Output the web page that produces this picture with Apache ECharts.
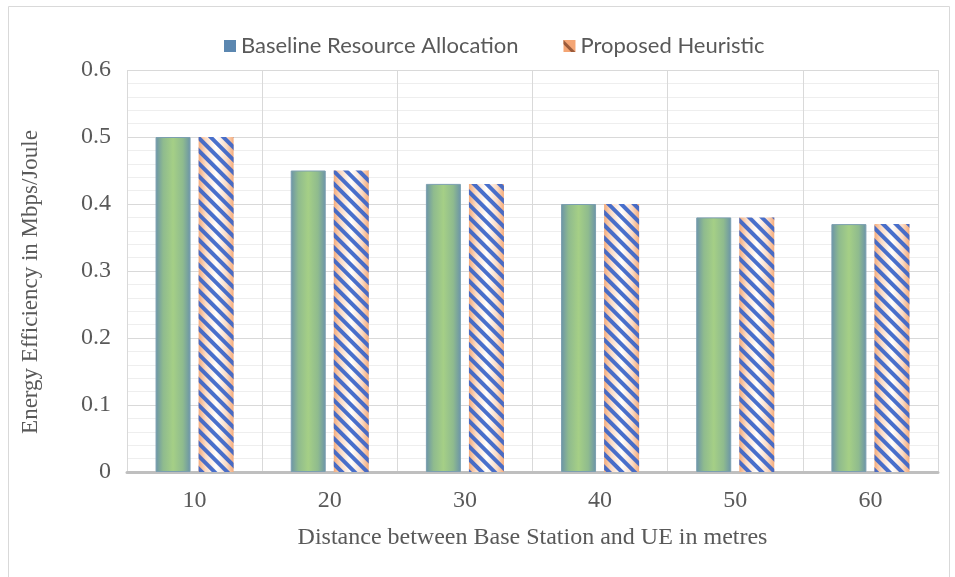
<!DOCTYPE html>
<html>
<head>
<meta charset="utf-8">
<script src="https://cdn.jsdelivr.net/npm/echarts@6/dist/echarts.min.js"></script>
<style>
  html, body { margin: 0; padding: 0; background: #ffffff; }
  #chart { width: 955px; height: 577px; }
</style>
</head>
<body>
<div id="chart"></div>
<script>
// Distances (m) on the horizontal axis
const distances = ['10', '20', '30', '40', '50', '60'];
// Energy efficiency (Mbps/Joule) per distance
const baselineValues = [0.5, 0.45, 0.43, 0.40, 0.38, 0.37];
const heuristicValues = [0.5, 0.45, 0.43, 0.40, 0.38, 0.37];
const seriesNames = ['Baseline Resource Allocation', 'Proposed Heuristic'];
const yTicks = { min: 0, max: 0.6, interval: 0.1 };

const chart = echarts.init(document.getElementById('chart'), null, { renderer: 'canvas' });

const greenFill = new echarts.graphic.LinearGradient(0, 0, 1, 0, [
  { offset: 0, color: '#6a93a8' },
  { offset: 0.22, color: '#8fbb8e' },
  { offset: 0.5, color: '#a5cf86' },
  { offset: 0.78, color: '#8fbb8e' },
  { offset: 1, color: '#6a93a8' }
]);
const peachFill = new echarts.graphic.LinearGradient(0, 0, 1, 0, [
  { offset: 0, color: '#f4ac7c' },
  { offset: 0.2, color: '#fcdcc6' },
  { offset: 0.5, color: '#ffffff' },
  { offset: 0.8, color: '#fcdcc6' },
  { offset: 1, color: '#f4ac7c' }
]);

const serif = '"Liberation Serif", "Times New Roman", serif';
const sans = 'Lato, "Open Sans", sans-serif';

chart.setOption({
  animation: false,
  backgroundColor: '#ffffff',
  graphic: [{
    type: 'rect',
    shape: { x: 8.5, y: 6.5, width: 941, height: 600 },
    style: { fill: 'none', stroke: '#d9d9d9', lineWidth: 1 },
    silent: true
  }],
  legend: {
    top: 30,
    left: 219,
    itemWidth: 12,
    itemHeight: 12,
    itemGap: 45,
    textStyle: { fontFamily: sans, fontSize: 22, color: '#595959' },
    data: [
      { name: seriesNames[0], icon: 'rect', itemStyle: { color: '#5b87b0', borderWidth: 0 } },
      { name: seriesNames[1], icon: 'rect', itemStyle: { color: '#f4a574', borderWidth: 0,
        decal: { symbol: 'rect', symbolSize: 1, color: '#9a5a3a', dashArrayX: [1, 0], dashArrayY: [3, 9], rotation: Math.PI / 4 } } }
    ]
  },
  grid: { left: 127, right: 17, top: 70, bottom: 105, containLabel: false },
  xAxis: {
    type: 'category',
    data: distances,
    name: 'Distance between Base Station and UE in metres',
    nameLocation: 'middle',
    nameGap: 54,
    nameTextStyle: { fontFamily: serif, fontSize: 24, color: '#595959' },
    axisLine: { show: true, lineStyle: { color: '#bfbfbf', width: 3 } },
    axisTick: { show: false },
    axisLabel: { fontFamily: serif, fontSize: 24, color: '#595959', margin: 17 },
    splitLine: { show: true, showMinLine: true, showMaxLine: true, lineStyle: { color: '#d9d9d9', width: 1 } }
  },
  yAxis: {
    type: 'value',
    min: yTicks.min,
    max: yTicks.max,
    interval: yTicks.interval,
    name: 'Energy Efficiency in Mbps/Joule',
    nameLocation: 'middle',
    nameGap: 85,
    nameTextStyle: { fontFamily: serif, fontSize: 23, color: '#595959', padding: [0, 22, 0, 0] },
    axisLine: { show: false },
    axisTick: { show: false },
    axisLabel: { fontFamily: serif, fontSize: 24, color: '#595959', margin: 16, formatter: v => String(+v.toFixed(1)) },
    splitLine: { show: true, lineStyle: { color: '#d9d9d9', width: 1 } },
    minorTick: { show: false, splitNumber: 5 },
    minorSplitLine: { show: true, lineStyle: { color: '#eeeeee', width: 1 } }
  },
  series: [
    {
      name: seriesNames[0],
      type: 'bar',
      data: baselineValues,
      barWidth: 35,
      barGap: '23%',
      itemStyle: { color: greenFill, borderColor: '#7c9fb0', borderWidth: 1 }
    },
    {
      name: seriesNames[1],
      type: 'bar',
      data: heuristicValues,
      barWidth: 35,
      barGap: '23%',
      itemStyle: {
        color: peachFill,
        borderWidth: 0,
        decal: {
          symbol: 'rect',
          symbolSize: 1,
          color: 'rgba(58,100,200,0.92)',
          dashArrayX: [1, 0],
          dashArrayY: [4, 5],
          rotation: Math.PI / 4
        }
      }
    }
  ]
});
</script>
</body>
</html>
